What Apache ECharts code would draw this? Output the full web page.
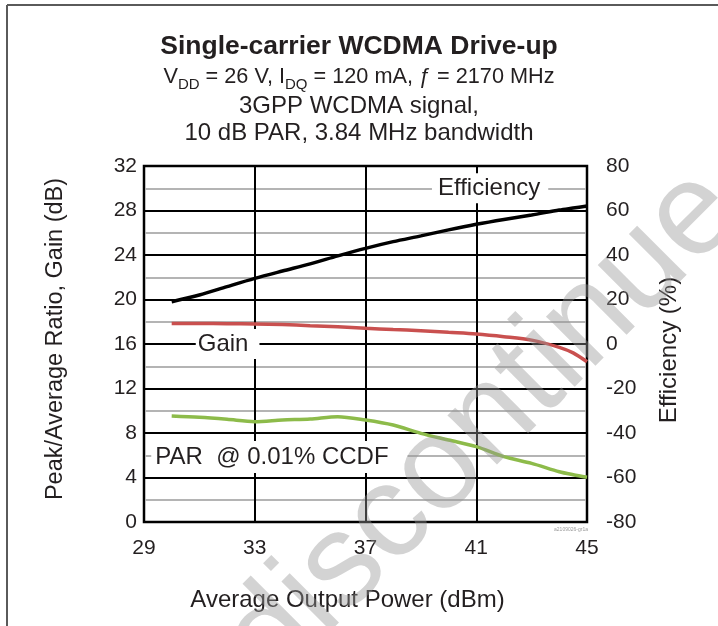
<!DOCTYPE html>
<html>
<head>
<meta charset="utf-8">
<script src="https://cdn.jsdelivr.net/npm/echarts@6/dist/echarts.min.js"></script>
<style>
html,body{margin:0;padding:0;background:#fff;}
#chart{width:718px;height:626px;}
</style>
</head>
<body>
<div id="chart"></div>
<script>
// ---- data ----
var powerDbm   = [30, 31, 32, 33, 34, 35, 36, 37, 38, 39, 40, 41, 42, 43, 44, 44.5, 45];
var efficiency = [19, 22, 25.8, 29.5, 32.8, 36, 39.6, 43, 46, 48.6, 51.3, 53.8, 56, 58, 60.2, 61.1, 62];
var gain       = [17.85, 17.85, 17.83, 17.8, 17.75, 17.65, 17.55, 17.41, 17.3, 17.2, 17.05, 16.9, 16.66, 16.35, 15.7, 15.2, 14.4];
var par        = [9.53, 9.41, 9.23, 9.02, 9.17, 9.26, 9.47, 9.17, 8.72, 7.97, 7.37, 6.77, 5.87, 5.27, 4.52, 4.25, 4.02];
var xTicks     = [29, 33, 37, 41, 45];
var leftTicks  = [0, 4, 8, 12, 16, 20, 24, 28, 32];
var rightTicks = [-80, -60, -40, -20, 0, 20, 40, 60, 80];
var seriesNames = ['Efficiency', 'Gain', 'PAR  @ 0.01% CCDF'];

function pairs(xs, ys){ return xs.map(function(x,i){ return [x, ys[i]]; }); }

var FONT = "'Liberation Sans', Arial, sans-serif";
var TXT = '#231f20';

var chart = echarts.init(document.getElementById('chart'), null, {renderer:'canvas'});

var labelStyle = {
  show: true, color: TXT, fontFamily: FONT, fontSize: 24,
  backgroundColor: '#fff', position: 'inside'
};

var option = {
  backgroundColor: '#fff',
  animation: false,
  title: [
    {
      text: 'Single-carrier WCDMA Drive-up',
      left: 'center', top: 28,
      textStyle: {fontFamily: FONT, fontSize: 26.5, fontWeight: 'bold', color: TXT}
    },
    {
      text: '{n|V}{s|DD}{n| = 26 V, I}{s|DQ}{n| = 120 mA, ƒ = 2170 MHz}',
      left: 'center', top: 57,
      textStyle: {
        fontWeight: 'normal',
        rich: {
          n: {fontFamily: FONT, fontSize: 21.7, fontWeight: 'normal', color: TXT, lineHeight: 26, verticalAlign: 'bottom'},
          s: {fontFamily: FONT, fontSize: 15, fontWeight: 'normal', color: TXT, lineHeight: 18, verticalAlign: 'bottom', padding: [0,0,-4,0]}
        }
      }
    },
    {
      text: '3GPP WCDMA signal,\n10 dB PAR, 3.84 MHz bandwidth',
      left: 'center', top: 88,
      textStyle: {fontFamily: FONT, fontSize: 24, fontWeight: 'normal', color: TXT, lineHeight: 27, align: 'center'}
    }
  ],
  grid: {
    left: 144, right: 131, top: 166, bottom: 104,
    show: true, borderColor: '#000', borderWidth: 2.5, backgroundColor: 'transparent',
    containLabel: false
  },
  xAxis: {
    type: 'value', min: xTicks[0], max: xTicks[xTicks.length-1], interval: 4,
    name: 'Average Output Power (dBm)', nameLocation: 'middle', nameGap: 66,
    nameTextStyle: {fontFamily: FONT, fontSize: 24, color: TXT, padding: [0, 36, 0, 0]},
    axisLine: {show: false}, axisTick: {show: false},
    axisLabel: {fontFamily: FONT, fontSize: 21, color: TXT, margin: 16},
    splitLine: {show: true, lineStyle: {color: '#000', width: 2}}
  },
  yAxis: [
    {
      type: 'value', min: leftTicks[0], max: leftTicks[leftTicks.length-1], interval: 4,
      name: 'Peak/Average Ratio, Gain (dB)', nameLocation: 'middle', nameGap: 76, nameRotate: 90,
      nameTextStyle: {fontFamily: FONT, fontSize: 23.5, color: TXT, padding: [0, 0, 0, 10]},
      axisLine: {show: false}, axisTick: {show: false},
      axisLabel: {fontFamily: FONT, fontSize: 21, color: TXT, margin: 7},
      splitLine: {show: true, lineStyle: {color: '#000', width: 2}},
      minorTick: {show: false, splitNumber: 2},
      minorSplitLine: {show: true, lineStyle: {color: '#b4b4b4', width: 2}}
    },
    {
      type: 'value', min: rightTicks[0], max: rightTicks[rightTicks.length-1], interval: 20,
      position: 'right',
      name: 'Efficiency (%)', nameLocation: 'middle', nameGap: 70, nameRotate: 90,
      nameTextStyle: {fontFamily: FONT, fontSize: 24, color: TXT, padding: [0, 12, 0, 0]},
      axisLine: {show: false}, axisTick: {show: false},
      axisLabel: {fontFamily: FONT, fontSize: 21, color: TXT, margin: 19},
      splitLine: {show: false}
    }
  ],
  series: [
    {
      name: seriesNames[0], type: 'line', yAxisIndex: 1, smooth: 0.3, showSymbol: false,
      data: pairs(powerDbm, efficiency),
      lineStyle: {color: '#000', width: 3.5}, z: 5,
      markPoint: {
        symbol: 'rect', symbolSize: 0, silent: true,
        data: [{coord: [41.5, 70]}],
        label: Object.assign({}, labelStyle, {formatter: seriesNames[0], padding: [3, 8, 3, 6]})
      }
    },
    {
      name: seriesNames[1], type: 'line', yAxisIndex: 0, smooth: 0.3, showSymbol: false,
      data: pairs(powerDbm, gain),
      lineStyle: {color: '#c9504f', width: 3.5}, z: 5,
      markPoint: {
        symbol: 'rect', symbolSize: 0, silent: true,
        data: [{coord: [32.02, 16.0]}],
        label: Object.assign({}, labelStyle, {formatter: seriesNames[1], padding: [3, 11, 3, 2]})
      }
    },
    {
      name: seriesNames[2], type: 'line', yAxisIndex: 0, smooth: 0.3, showSymbol: false,
      data: pairs(powerDbm, par),
      lineStyle: {color: '#8dbb4a', width: 3.5}, z: 5,
      markPoint: {
        symbol: 'rect', symbolSize: 0, silent: true,
        data: [{coord: [33.89, 5.84]}],
        label: Object.assign({}, labelStyle, {formatter: seriesNames[2], padding: [4, 19, 4, 4]})
      }
    }
  ],
  graphic: [
    {type: 'line', shape: {x1: 7, y1: 5, x2: 7, y2: 626}, style: {stroke: '#5a5a5a', lineWidth: 2}, z: 1},
    {type: 'line', shape: {x1: 7, y1: 5, x2: 718, y2: 5}, style: {stroke: '#5a5a5a', lineWidth: 2}, z: 1},
    {type: 'text', x: 571, y: 530, style: {text: 'a2109026-gr1a', fontSize: 5, fontFamily: FONT, fill: '#9a9a9a', align: 'center', verticalAlign: 'middle'}, z: 10},
    {type: 'text', x: 483, y: 427, rotation: Math.PI/4,
     style: {text: 'discontinue', fontSize: 132, fontFamily: FONT, fill: 'rgba(150,150,150,0.42)', align: 'center', verticalAlign: 'middle'},
     z: 100, silent: true}
  ]
};
chart.setOption(option);
</script>
</body>
</html>
